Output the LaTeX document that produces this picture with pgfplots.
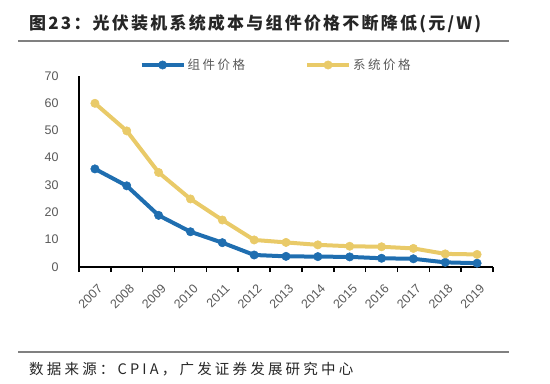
\documentclass[border=0pt]{standalone}
\usepackage{pgfplots}
\pgfplotsset{compat=1.18}
\usepackage{fontspec}
\setmainfont{Liberation Sans}
\newfontfamily\cjk{Noto Sans CJK SC}
\newfontfamily\cjkls[LetterSpace=20]{Noto Sans CJK SC}
\newfontfamily\cjkfoot[LetterSpace=22]{Noto Sans CJK SC}
\newfontfamily\cjktitle[LetterSpace=13]{Noto Sans CJK SC}
\definecolor{cblue}{RGB}{31,110,176}
\definecolor{cyellow}{RGB}{233,202,104}
\definecolor{tgray}{RGB}{89,89,89}
\definecolor{lgray}{RGB}{128,128,128}
\begin{document}
\begin{tikzpicture}
\path (0bp,0bp) rectangle (550bp,-384bp);
\draw[lgray, line width=1.3bp] (18bp,-41bp) -- (509bp,-41bp);
\draw[lgray, line width=1.3bp] (18bp,-352bp) -- (509bp,-352bp);
\node[anchor=west, inner sep=0pt, text=black!85] at (29bp,-24bp) {\cjktitle\bfseries\fontsize{17bp}{19bp}\selectfont 图23：光伏装机系统成本与组件价格不断降低(元/W)};
\node[anchor=west, inner sep=0pt, text=black!85] at (29bp,-369bp) {\cjkfoot\fontsize{14.5bp}{16bp}\selectfont 数据来源：CPIA，广发证券发展研究中心};
\begin{axis}[
  at={(79bp,-267bp)}, anchor=south west,
  scale only axis, width=414bp, height=191.3bp,
  xmin=-0.5, xmax=12.5, ymin=0, ymax=70,
  axis x line*=bottom, axis y line*=left,
  axis line style={-, line width=1.5bp, black},
  xtick={0,...,12},
  xticklabels={2007,2008,2009,2010,2011,2012,2013,2014,2015,2016,2017,2018,2019},
  minor xtick={-0.5,0.5,...,12.5},
  major x tick style={draw=none},
  minor x tick style={black, line width=1.5bp},
  minor tick length=5bp,
  tick align=outside,
  ytick={0,10,...,70},
  ytick style={draw=none},
  /pgf/number format/assume math mode=true,
  tick label style={font=\fontsize{12.5bp}{14bp}\selectfont, text=tgray},
  xticklabel style={rotate=45, anchor=north east, inner sep=0pt, yshift=-10bp, xshift=-7bp, font=\fontsize{12.5bp}{14bp}\selectfont},
  yticklabel style={anchor=east, inner sep=0pt, xshift=-16bp},
  legend style={at={(0.476,1.056)}, anchor=center, draw=none, fill=none,
    legend columns=2, font=\cjkls\fontsize{12.5bp}{14bp}\selectfont, text=tgray,
    /tikz/every even column/.append style={column sep=58bp}},
  legend image code/.code={\draw[#1,mark repeat=2,mark phase=2] plot coordinates {(0bp,0bp) (21bp,0bp) (42bp,0bp)};},
  every axis plot/.append style={line width=4bp, mark=*, mark size=4.2bp},
]
\addplot[cblue, mark options={fill=cblue, draw=cblue, line width=0.5bp}] coordinates {
(0,35.9) (1,29.7) (2,18.9) (3,12.9) (4,8.9) (5,4.4) (6,3.9) (7,3.8) (8,3.7) (9,3.2) (10,3.0) (11,1.7) (12,1.4)};
\addlegendentry{组件价格}
\addplot[cyellow, mark options={fill=cyellow, draw=cyellow, line width=0.5bp}] coordinates {
(0,59.9) (1,49.8) (2,34.6) (3,24.9) (4,17.2) (5,9.9) (6,9.0) (7,8.1) (8,7.6) (9,7.4) (10,6.8) (11,4.8) (12,4.6)};
\addlegendentry{系统价格}
\end{axis}
\end{tikzpicture}
\end{document}
